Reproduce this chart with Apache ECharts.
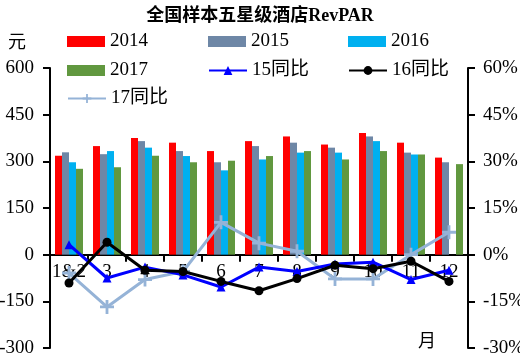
<!DOCTYPE html>
<html><head><meta charset="utf-8">
<script src="https://cdn.jsdelivr.net/npm/echarts@6/dist/echarts.min.js"></script>
<style>html,body{margin:0;padding:0;background:#fff}#c{width:520px;height:358px}</style>
</head><body><div id="c"></div>
<script>
const categories = ['1&2','3','4','5','6','7','8','9','10','11','12'];
const v2014 = [318,349,375,360,333,365,380,354,391,360,312];
const v2015 = [329,323,365,333,297,349,360,344,380,328,297];
const v2016 = [297,333,344,317,271,306,328,328,365,322,null];
const v2017 = [276,281,318,297,302,317,333,306,333,322,291];
const yoy15 = [3.2,-7.5,-4.0,-6.5,-10.4,-4.0,-5.4,-3.0,-2.4,-8.0,-5.0];
const yoy16 = [-9.1,4.0,-5.0,-5.4,-8.6,-11.6,-7.7,-3.4,-4.5,-2.1,-8.6];
const yoy17 = [-5.9,-16.8,-8.0,-5.4,10.4,3.7,1.1,-7.8,-7.8,0.0,7.2];

const FONT = "'Liberation Serif','Noto Sans CJK SC',serif";
const plus = 'path://M4,0h2v4h4v2h-4v4h-2v-4h-4v-2h4z';
const C = {s14:'#FF0000', s15:'#6E87A6', s16:'#00B0F0', s17:'#61983F', l15:'#0000FF', l16:'#000000', l17:'#95B3D7'};

function lg(name, left, top){
  return {data:[name], left:left, top:top, itemWidth:38, itemHeight:11, itemGap:4,
    textStyle:{fontFamily:FONT, fontSize:19, color:'#000', padding:[0,0,0,0]}, padding:0, selectedMode:false};
}
const GRID_TOP = 68, GRID_BOTTOM = 10, H = 358;
const plotH = H - GRID_TOP - GRID_BOTTOM;
const zeroOffset = -plotH * 300 / 900;

const chart = echarts.init(document.getElementById('c'));
chart.setOption({
  animation:false,
  title:{text:'全国样本五星级酒店RevPAR', left:'center', top:7, padding:0,
    textStyle:{fontFamily:FONT, fontSize:18, fontWeight:'bold', color:'#000'}},
  legend:[
    Object.assign(lg('2014',67,32),{icon:'rect'}),
    Object.assign(lg('2015',208,32),{icon:'rect'}),
    Object.assign(lg('2016',348,32),{icon:'rect'}),
    Object.assign(lg('2017',67,61),{icon:'rect'}),
    lg('15同比',208,61),
    lg('16同比',348,61),
    lg('17同比',67,89)
  ],
  graphic:[
    {type:'text', left:8, top:32, style:{text:'元', font:"18px 'Noto Sans CJK SC'", fill:'#000'}},
    {type:'text', left:418, top:331, style:{text:'月', font:"18px 'Noto Sans CJK SC'", fill:'#000'}}
  ],
  grid:{left:50, right:52, top:GRID_TOP, bottom:GRID_BOTTOM, containLabel:false, outerBoundsMode:'none'},
  xAxis:{type:'category', data:categories, position:'bottom', offset:zeroOffset,
    axisLine:{onZero:false, lineStyle:{color:'#000', width:2}},
    axisTick:{show:true, length:7, lineStyle:{color:'#000', width:2}},
    axisLabel:{fontFamily:FONT, fontSize:19, color:'#000', margin:8, interval:0}},
  yAxis:[
    {type:'value', min:-300, max:600, interval:150, splitLine:{show:false},
     axisLine:{show:true, onZero:false, lineStyle:{color:'#000', width:2}},
     axisTick:{show:true, length:7, lineStyle:{color:'#000', width:2}},
     axisLabel:{fontFamily:FONT, fontSize:19, color:'#000', margin:16}},
    {type:'value', min:-30, max:60, interval:15, splitLine:{show:false}, position:'right',
     axisLine:{show:true, onZero:false, lineStyle:{color:'#000', width:2}},
     axisTick:{show:true, length:7, lineStyle:{color:'#000', width:2}},
     axisLabel:{fontFamily:FONT, fontSize:19, color:'#000', margin:15, formatter:'{value}%'}}
  ],
  series:[
    {name:'2014', type:'bar', data:v2014, barWidth:7, barGap:'0%', itemStyle:{color:C.s14}},
    {name:'2015', type:'bar', data:v2015, barWidth:7, barGap:'0%', itemStyle:{color:C.s15}},
    {name:'2016', type:'bar', data:v2016, barWidth:7, barGap:'0%', itemStyle:{color:C.s16}},
    {name:'2017', type:'bar', data:v2017, barWidth:7, barGap:'0%', itemStyle:{color:C.s17}},
    {name:'15同比', type:'line', yAxisIndex:1, data:yoy15, symbol:'triangle', symbolSize:9,
     lineStyle:{color:C.l15, width:3}, itemStyle:{color:C.l15}, z:5},
    {name:'16同比', type:'line', yAxisIndex:1, data:yoy16, symbol:'circle', symbolSize:9,
     lineStyle:{color:C.l16, width:3}, itemStyle:{color:C.l16}, z:6},
    {name:'17同比', type:'line', yAxisIndex:1, data:yoy17, symbol:plus, symbolSize:14,
     lineStyle:{color:C.l17, width:3}, itemStyle:{color:C.l17}, z:4}
  ]
});
</script></body></html>
